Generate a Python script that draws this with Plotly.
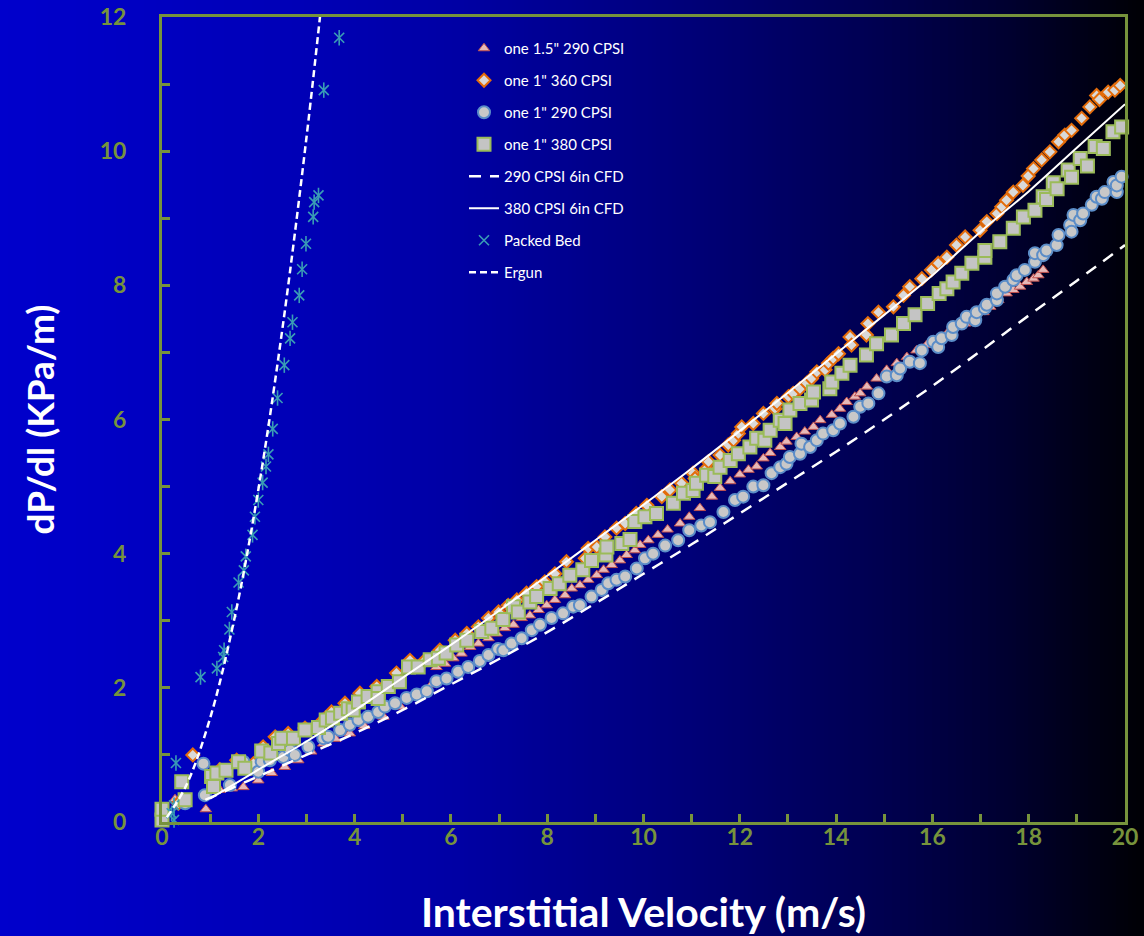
import plotly.graph_objects as go

# ---------------- data ----------------
tri_x = [0.27, 0.91, 1.2, 1.45, 1.69, 2.0, 2.28, 2.55, 2.83, 3.1, 3.35, 3.6, 3.9, 4.2, 4.6, 4.95, 5.29, 5.6, 5.7, 5.88,
         6.05, 6.22, 6.4, 6.57, 6.78, 6.95, 7.12, 7.3, 7.47, 7.64, 7.82, 7.99, 8.16, 8.37, 8.51, 8.68, 8.85, 9.03, 9.17,
         9.34, 9.51, 9.65, 9.82, 9.93, 10.1, 10.3, 10.5, 10.76, 10.95, 11.17, 11.42, 11.59, 11.8, 12.0, 12.18, 12.35,
         12.49, 12.63, 12.84, 12.97, 13.18, 13.35, 13.53, 13.67, 13.91, 14.08, 14.22, 14.39, 14.5, 14.64, 14.84, 15.05,
         15.26, 15.47, 15.67, 15.88, 16.09, 16.3, 16.5, 16.68, 16.89, 17.06, 17.2, 17.37, 17.54, 17.68, 17.82, 17.96,
         18.1, 18.2, 18.3]
tri_y = [0.34, 0.19, 0.48, 0.5, 0.52, 0.62, 0.73, 0.82, 0.92, 1.05, 1.17, 1.24, 1.32, 1.43, 1.57, 1.72, 1.87, 2.05, 2.31, 2.36,
         2.44, 2.51, 2.61, 2.66, 2.74, 2.81, 2.89, 2.94, 3.04, 3.08, 3.16, 3.23, 3.31, 3.38, 3.48, 3.53, 3.61, 3.68, 3.76,
         3.83, 3.9, 3.98, 4.05, 4.13, 4.2, 4.28, 4.36, 4.45, 4.55, 4.68, 4.85, 4.98, 5.08, 5.18, 5.25, 5.3,
         5.42, 5.5, 5.59, 5.67, 5.74, 5.82, 5.89, 5.99, 6.07, 6.16, 6.26, 6.34, 6.39, 6.49, 6.61, 6.74,
         6.84, 6.93, 7.03, 7.11, 7.18, 7.28, 7.38, 7.43, 7.53, 7.6, 7.68, 7.78, 7.88, 7.93, 7.98, 8.05,
         8.1, 8.15, 8.23]

dia_x = [0.03, 0.34, 0.64, 1.2, 1.55, 1.9, 2.1, 2.35, 2.62, 2.97, 3.35, 3.52, 3.8, 4.11, 4.46, 4.87, 5.15, 5.46, 5.77,
         6.09, 6.33, 6.57, 6.78, 6.99, 7.19, 7.37, 7.57, 7.78, 7.95, 8.16, 8.4, 8.79, 8.85, 9.03, 9.2, 9.44, 9.62, 9.85,
         10.07, 10.38, 10.55, 10.79, 11.03, 11.07, 11.31, 11.35, 11.59, 11.76, 11.87, 11.97, 12.04, 12.28, 12.49, 12.73,
         12.77, 13.01, 13.11, 13.25, 13.39, 13.49, 13.6, 13.77, 13.84, 13.94, 14.05, 14.29, 14.32, 14.63, 14.66, 14.88,
         15.19, 15.4, 15.53, 15.78, 15.98, 16.12, 16.3, 16.5, 16.68, 16.99, 17.13, 17.34, 17.44, 17.54, 17.68, 17.88,
         17.99, 18.1, 18.27, 18.44, 18.62, 18.75, 18.89, 19.1, 19.27, 19.41, 19.47, 19.65, 19.79, 19.9]
dia_y = [0.13, 0.28, 1.0, 0.78, 0.92, 0.87, 1.12, 1.27, 1.32, 1.4, 1.52, 1.64, 1.77, 1.92, 2.02, 2.22, 2.41, 2.41, 2.56,
         2.71, 2.81, 2.91, 3.04, 3.13, 3.23, 3.31, 3.41, 3.51, 3.58, 3.7, 3.88, 3.93, 4.08, 4.1, 4.25, 4.38, 4.45, 4.6,
         4.72, 4.85, 4.95, 5.05, 5.2, 5.12, 5.27, 5.37, 5.47, 5.62, 5.69, 5.79, 5.89, 5.94, 6.09, 6.16,
         6.24, 6.34, 6.39, 6.46, 6.54, 6.61, 6.71, 6.74, 6.84, 6.91, 6.98, 7.23, 7.11, 7.26, 7.43, 7.6,
         7.68, 7.85, 7.98, 8.1, 8.23, 8.33, 8.42, 8.6, 8.72, 8.82, 8.95, 9.07, 9.17, 9.27, 9.39, 9.49,
         9.63, 9.74, 9.87, 9.99, 10.14, 10.24, 10.31, 10.49, 10.66, 10.83, 10.77, 10.88, 10.91, 10.98]

cir_x = [0.48, 0.86, 0.89, 1.41, 1.69, 2.0, 2.07, 2.24, 2.52, 2.66, 2.76, 3.04, 3.35, 3.45, 3.7, 3.9, 4.08, 4.28, 4.49,
         4.63, 4.84, 5.08, 5.29, 5.5, 5.7, 5.91, 6.15, 6.36, 6.6, 6.78, 6.98, 7.09, 7.26, 7.47, 7.68, 7.85, 8.09, 8.33,
         8.54, 8.68, 8.92, 9.13, 9.27, 9.44, 9.62, 9.86, 10.03, 10.2, 10.45, 10.72, 10.95, 11.2, 11.38, 11.66, 11.9,
         12.07, 12.28, 12.49, 12.66, 12.84, 12.97, 13.04, 13.25, 13.28, 13.46, 13.6, 13.73, 13.94, 14.08, 14.36, 14.5,
         14.67, 14.88, 15.05, 15.26, 15.33, 15.53, 15.74, 15.78, 16.02, 16.12, 16.19, 16.4, 16.43, 16.61, 16.71, 16.89,
         16.92, 17.09, 17.13, 17.34, 17.34, 17.51, 17.68, 17.75, 17.92, 18.13, 18.13, 18.3, 18.37, 18.58, 18.62, 18.86,
         18.89, 18.93, 19.07, 19.13, 19.31, 19.41, 19.52, 19.58, 19.76, 19.83, 19.83, 19.93]
cir_y = [0.28, 0.87, 0.4, 0.55, 0.9, 0.75, 0.9, 0.92, 0.97, 1.07, 1.0, 1.12, 1.25, 1.27, 1.37, 1.45, 1.52, 1.57, 1.64,
         1.72, 1.77, 1.85, 1.9, 1.95, 2.1, 2.14, 2.24, 2.31, 2.4, 2.49, 2.58, 2.56, 2.66, 2.74, 2.86, 2.94, 3.04, 3.11,
         3.21, 3.23, 3.36, 3.46, 3.56, 3.61, 3.66, 3.78, 3.93, 4.0, 4.12, 4.2, 4.35, 4.42, 4.47, 4.62, 4.8,
         4.85, 5.0, 5.02, 5.2, 5.29, 5.34, 5.44, 5.49, 5.64, 5.59, 5.69, 5.79, 5.84, 5.94, 6.04, 6.19,
         6.24, 6.39, 6.64, 6.66, 6.76, 6.86, 6.84, 7.03, 7.16, 7.08, 7.21, 7.26, 7.38, 7.43, 7.53, 7.48,
         7.6, 7.66, 7.71, 7.78, 7.88, 7.98, 8.08, 8.15, 8.23, 8.35, 8.48, 8.45, 8.52, 8.6, 8.75, 8.9,
         8.8, 9.05, 8.97, 9.07, 9.2, 9.32, 9.29, 9.39, 9.54, 9.39, 9.49, 9.62]

sq_x = [0.0, 0.0, 0.41, 0.48, 1.03, 1.07, 1.14, 1.33, 1.59, 1.72, 2.07, 2.26, 2.42, 2.49, 2.73, 2.97, 3.25, 3.41, 3.54,
        3.71, 3.87, 3.97, 4.08, 4.28, 4.49, 4.49, 4.7, 4.93, 5.12, 5.32, 5.57, 5.74, 5.9, 6.12, 6.33, 6.64, 6.85, 7.08,
        7.3, 7.4, 7.64, 7.78, 8.06, 8.25, 8.47, 8.74, 8.92, 9.22, 9.24, 9.55, 9.72, 9.82, 10.03, 10.27, 10.62, 10.83,
        11.03, 11.1, 11.31, 11.48, 11.59, 11.8, 11.97, 12.21, 12.35, 12.52, 12.63, 12.84, 12.94, 13.04, 13.25, 13.49,
        13.53, 13.87, 13.91, 14.12, 14.29, 14.63, 14.84, 15.15, 15.4, 15.64, 15.9, 16.14, 16.3, 16.43, 16.61, 16.82,
        17.09, 17.09, 17.4, 17.68, 17.89, 18.13, 18.3, 18.37, 18.51, 18.59, 18.82, 18.89, 19.07, 19.22, 19.38, 19.55,
        19.75, 19.93]
sq_y = [0.03, 0.19, 0.6, 0.33, 0.68, 0.53, 0.73, 0.77, 0.9, 0.8, 1.06, 1.03, 1.17, 1.25, 1.25, 1.37, 1.41, 1.52, 1.55,
        1.62, 1.69, 1.67, 1.79, 1.87, 1.94, 1.84, 2.02, 2.09, 2.31, 2.31, 2.42, 2.44, 2.52, 2.64, 2.71, 2.84, 2.89, 3.02,
        3.21, 3.13, 3.28, 3.36, 3.48, 3.55, 3.68, 3.76, 3.9, 3.98, 4.1, 4.15, 4.21, 4.48, 4.55, 4.6, 4.75, 4.9,
        4.94, 5.05, 5.17, 5.15, 5.29, 5.39, 5.49, 5.59, 5.72, 5.69, 5.84, 5.99, 5.94, 6.14, 6.24, 6.29,
        6.41, 6.46, 6.56, 6.69, 6.81, 6.96, 7.13, 7.26, 7.43, 7.56, 7.73, 7.88, 7.95, 8.05, 8.18, 8.33,
        8.42, 8.52, 8.65, 8.85, 9.02, 9.12, 9.32, 9.28, 9.53, 9.44, 9.72, 9.61, 9.89, 9.78, 10.07, 10.04,
        10.29, 10.36]

cfd290_x = [0.9, 2, 3, 4, 5, 6, 7, 8, 9, 10, 11, 12, 13, 14, 15, 16, 17, 18, 19, 20]
cfd290_y = [0.33, 0.68, 1.0, 1.32, 1.67, 2.05, 2.43, 2.83, 3.26, 3.7, 4.14, 4.6, 5.06, 5.52, 6.0, 6.5, 7.02, 7.55, 8.07, 8.6]

cfd380_x = [1, 2, 3, 4, 5, 6, 7, 8, 9, 10, 11, 12, 13, 14, 15, 16, 17, 18, 19, 20]
cfd380_y = [0.35, 0.78, 1.2, 1.66, 2.15, 2.64, 3.15, 3.67, 4.2, 4.73, 5.27, 5.83, 6.4, 6.98, 7.56, 8.15, 8.8, 9.4, 10.05, 10.7]

pb_x = [0.2, 0.25, 0.25, 0.29, 0.8, 1.14, 1.27, 1.29, 1.4, 1.45, 1.59, 1.7, 1.74, 1.88, 1.93, 2.0, 2.09, 2.16, 2.21,
        2.3, 2.4, 2.54, 2.66, 2.71, 2.85, 2.91, 2.99, 3.14, 3.16, 3.25, 3.36, 3.68]
pb_y = [0.13, 0.03, 0.25, 0.88, 2.16, 2.29, 2.46, 2.56, 2.87, 3.13, 3.57, 3.75, 3.96, 4.28, 4.55, 4.8, 5.06, 5.3, 5.48,
        5.86, 6.32, 6.81, 7.21, 7.45, 7.85, 8.24, 8.62, 9.02, 9.24, 9.34, 10.91, 11.69]

erg_x = [0.1, 0.5, 1.0, 1.5, 2.0, 2.5, 3.0, 3.4]
erg_y = [0.07, 0.54, 1.55, 3.02, 4.95, 7.35, 10.2, 12.8]

x_ticks = [0, 2, 4, 6, 8, 10, 12, 14, 16, 18, 20]
y_ticks = [0, 2, 4, 6, 8, 10, 12]

# ---------------- styling ----------------
OLIVE = "#77933C"
FONT = "Lato"
W, H = 1144, 936
ML, MR, MT, MB = 162, 19, 17, 114
PW, PH = W - ML - MR, H - MT - MB

fig = go.Figure()

common = dict(mode="markers", cliponaxis=False)
fig.add_trace(go.Scatter(x=tri_x, y=tri_y, name='one 1.5" 290 CPSI', legendgroup="a",
                         marker=dict(symbol="triangle-up", size=10, color="#E6B9B8",
                                     line=dict(color="#C0504D", width=1)), **common))
fig.add_trace(go.Scatter(x=dia_x, y=dia_y, name='one 1" 360 CPSI', legendgroup="b",
                         marker=dict(symbol="diamond", size=10, color="#D9D9D9",
                                     line=dict(color="#E46C0A", width=2)), **common))
fig.add_trace(go.Scatter(x=cir_x, y=cir_y, name='one 1" 290 CPSI', legendgroup="c",
                         marker=dict(symbol="circle", size=12, color="#C8C8C8",
                                     line=dict(color="#5B8DC8", width=2)), **common))
fig.add_trace(go.Scatter(x=sq_x, y=sq_y, name='one 1" 380 CPSI', legendgroup="d",
                         marker=dict(symbol="square", size=13, color="#C4C4C4",
                                     line=dict(color="#9BBB59", width=2)), **common))
fig.add_trace(go.Scatter(x=cfd290_x, y=cfd290_y, name="290 CPSI 6in CFD", mode="lines", legendgroup="e",
                         line=dict(color="white", width=2.5, dash="12px,9px", shape="spline")))
fig.add_trace(go.Scatter(x=cfd380_x, y=cfd380_y, name="380 CPSI 6in CFD", mode="lines", legendgroup="f",
                         line=dict(color="white", width=2, shape="spline")))
fig.add_trace(go.Scatter(x=pb_x, y=pb_y, name="Packed Bed", legendgroup="g",
                         marker=dict(symbol="x-thin-open", size=10, color="#3A9DB5",
                                     line=dict(color="#3A9DB5", width=1.6)), **common))
fig.add_trace(go.Scatter(x=pb_x, y=pb_y, name="Packed Bed", legendgroup="g", showlegend=False,
                         marker=dict(symbol="line-ns-open", size=11, color="#3A9DB5",
                                     line=dict(color="#3A9DB5", width=1.6)), **common))
fig.add_trace(go.Scatter(x=erg_x, y=erg_y, name="Ergun", mode="lines", legendgroup="h",
                         line=dict(color="white", width=2.5, dash="7px,4px", shape="spline")))

# background: horizontal gradient from bright blue to black
stops = [(0, 204), (300, 182), (450, 165), (650, 128), (880, 80), (1000, 50), (1144, 4)]


def blue_at(px):
    for (a, ca), (b, cb) in zip(stops[:-1], stops[1:]):
        if a <= px <= b:
            return ca + (cb - ca) * (px - a) / (b - a)
    return stops[-1][1]


shapes = []
step = 4
for px in range(0, W, step):
    c = int(round(blue_at(px + step / 2)))
    shapes.append(dict(type="rect", xref="paper", yref="paper", layer="below",
                       x0=(px - ML) / PW, x1=(px + step + 1 - ML) / PW,
                       y0=-(MB + 5) / PH, y1=1 + (MT + 5) / PH,
                       line=dict(width=0), fillcolor=f"rgb(0,0,{c})"))

axis_common = dict(showline=True, linecolor=OLIVE, linewidth=3, mirror=True, showgrid=False, zeroline=False,
                   ticks="inside", ticklen=8, tickwidth=3, tickcolor=OLIVE,
                   tickfont=dict(family=FONT, size=23, color=OLIVE, weight="bold"),
                   minor=dict(dtick=1, ticks="inside", ticklen=8, tickwidth=3, tickcolor=OLIVE))

fig.update_layout(
    width=W, height=H,
    margin=dict(l=ML, r=MR, t=MT, b=MB, autoexpand=False),
    paper_bgcolor="rgb(0,0,100)", plot_bgcolor="rgba(0,0,0,0)",
    shapes=shapes,
    font=dict(family=FONT, color="white"),
    xaxis=dict(range=[0, 20], tickvals=x_ticks, ticklabelstandoff=-8,
               title=dict(text="Interstitial Velocity (m/s)", standoff=52,
                          font=dict(family=FONT, size=41, color="white", weight="bold")),
               **axis_common),
    yaxis=dict(range=[0, 12], tickvals=y_ticks, ticklabelstandoff=28,
               title=dict(text="dP/dl (KPa/m)", standoff=34,
                          font=dict(family=FONT, size=37, color="white", weight="bold")),
               **axis_common),
    legend=dict(x=(464 - ML) / PW, y=1 - (32 - MT) / PH, xanchor="left", yanchor="top",
                bgcolor="rgba(0,0,0,0)", borderwidth=0, tracegroupgap=9.5,
                font=dict(family=FONT, size=15, color="white")),
    showlegend=True,
)

fig.write_html("out.html")
